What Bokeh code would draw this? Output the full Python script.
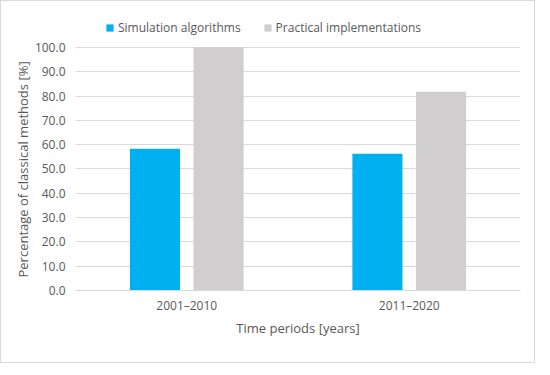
from bokeh.plotting import figure
from bokeh.models import (ColumnDataSource, FactorRange, Range1d, Legend, LegendItem,
                          NumeralTickFormatter, FixedTicker, Title)
from bokeh.transform import dodge
from bokeh.embed import file_html
from bokeh.resources import INLINE

periods = ["2001–2010", "2011–2020"]
simulation = [58.3, 56.3]
practical = [100.0, 81.8]
series_names = ["Simulation algorithms", "Practical implementations"]
y_ticks = [0, 10, 20, 30, 40, 50, 60, 70, 80, 90, 100]

src = ColumnDataSource(dict(period=periods, sim=simulation, prac=practical))

FONT = "Open Sans"
TXT = "#595959"

# y range extended above 100 to leave room for the legend inside the frame
p = figure(x_range=FactorRange(*periods, range_padding=0), y_range=Range1d(0, 112.3),
           width=535, height=363, output_backend="svg", toolbar_location=None,
           min_border_left=74, min_border_right=16, min_border_top=16, min_border_bottom=74,
           styles={"border": "1px solid #D9D9D9"})

r1 = p.vbar(x=dodge("period", -0.143, range=p.x_range), top="sim", width=0.225, source=src,
            color="#00B0F0", line_color=None)
r2 = p.vbar(x=dodge("period", 0.143, range=p.x_range), top="prac", width=0.225, source=src,
            color="#D0CECE", line_color=None)

legend = Legend(items=[LegendItem(label=series_names[0], renderers=[r1]),
                       LegendItem(label=series_names[1], renderers=[r2])],
                orientation="horizontal", location=(30, 254),
                border_line_color=None, background_fill_alpha=0,
                label_text_font=FONT, label_text_font_size="12px", label_text_color=TXT,
                glyph_width=9, glyph_height=9, spacing=22, label_standoff=4,
                margin=0, padding=0, label_height=16)
p.add_layout(legend, "center")

p.outline_line_color = None
p.xgrid.grid_line_color = None
p.ygrid.grid_line_color = "#D9D9D9"
p.ygrid.grid_line_width = 1

p.yaxis.ticker = FixedTicker(ticks=y_ticks)
p.yaxis.formatter = NumeralTickFormatter(format="0.0")
p.yaxis.axis_line_color = None
p.yaxis.major_tick_line_color = None
p.yaxis.minor_tick_line_color = None

p.xaxis.axis_line_color = "#D9D9D9"
p.xaxis.major_tick_line_color = None
p.xaxis.minor_tick_line_color = None
p.xaxis.axis_label = "Time periods [years]"

for ax in (p.xaxis[0], p.yaxis[0]):
    ax.major_tick_out = 0
    ax.major_tick_in = 0
    ax.minor_tick_out = 0
    ax.minor_tick_in = 0
    ax.major_label_text_font = FONT
    ax.major_label_text_font_size = "12px"
    ax.major_label_text_color = TXT
    ax.axis_label_text_font = FONT
    ax.axis_label_text_font_size = "13px"
    ax.axis_label_text_font_style = "normal"
    ax.axis_label_text_color = TXT

p.xaxis.major_label_standoff = 6
p.xaxis.axis_label_standoff = 2
p.yaxis.major_label_standoff = 10

ytitle = Title(text="Percentage of classical methods [%]", align="left", offset=13,
               text_font=FONT, text_font_size="13px", text_font_style="normal",
               text_color=TXT, standoff=0)
p.add_layout(ytitle, "left")

open("out.html", "w").write(file_html(p, INLINE))
